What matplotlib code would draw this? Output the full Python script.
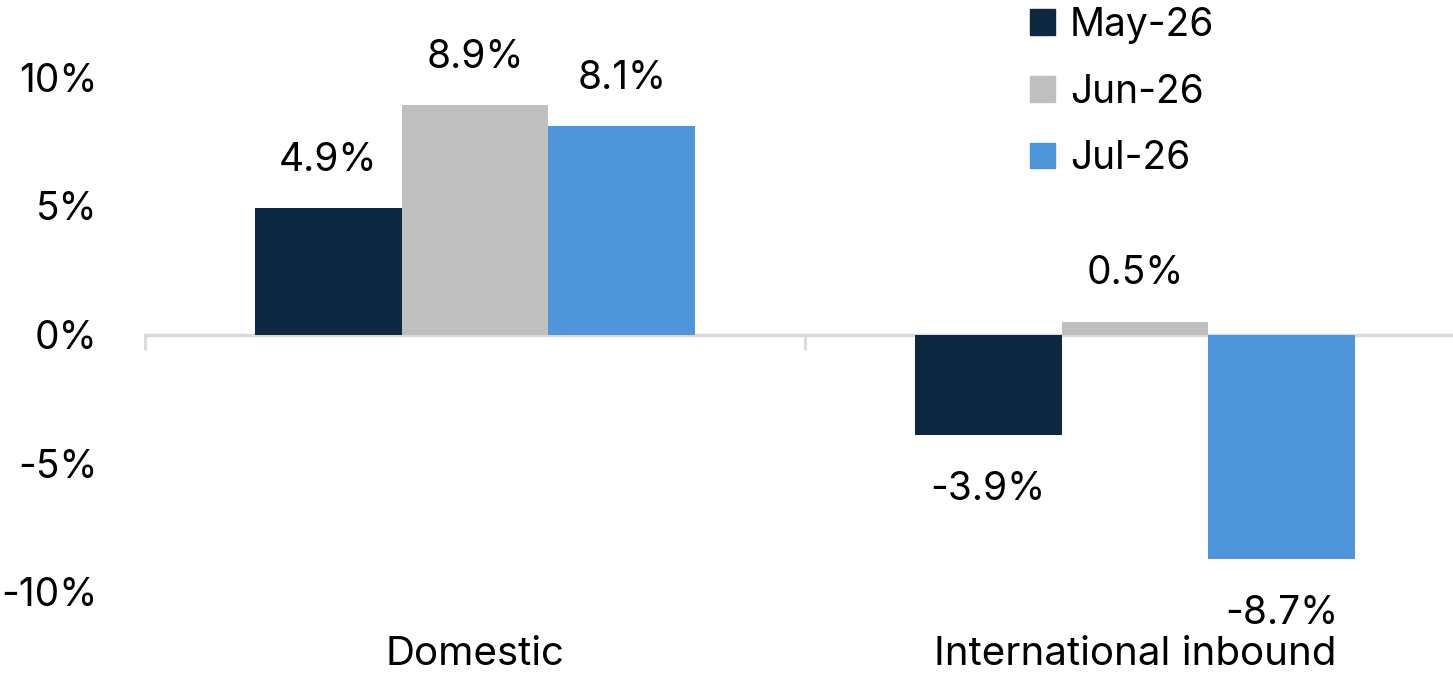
import matplotlib
matplotlib.use("Agg")
import matplotlib.pyplot as plt
from matplotlib.patches import Patch
from matplotlib.transforms import blended_transform_factory, offset_copy

plt.rcParams['font.family'] = ['Inter', 'DejaVu Sans']

categories = ['Domestic', 'International inbound']
series = ['May-26', 'Jun-26', 'Jul-26']
values = {
    'May-26': [4.9, -3.9],
    'Jun-26': [8.9, 0.5],
    'Jul-26': [8.1, -8.7],
}
colors = ['#0F2841', '#BFBFBF', '#4F95D9']
yticks = [-10, -5, 0, 5, 10]
ytick_labels = ['-10%', '-5%', '0%', '5%', '10%']

W, H = 1453, 676
fig = plt.figure(figsize=(W / 100, H / 100), dpi=100)
ax = fig.add_axes([145 / W, 1 - 592 / H, 1320 / W, 515 / H])

fs = 28
bar_w = 0.2227
x = range(len(categories))
for i, (name, col) in enumerate(zip(series, colors)):
    xs = [xi + (i - 1) * bar_w for xi in x]
    bars = ax.bar(xs, values[name], width=bar_w, color=col, zorder=3)
    # value labels above positive bars, below negative ones
    for b, v in zip(bars, values[name]):
        off = 34.5 if v >= 0 else -39.5
        ax.annotate(f'{v:.1f}%', (b.get_x() + b.get_width() / 2, v),
                    xytext=(0, off), textcoords='offset points',
                    ha='center', va='center', fontsize=fs, annotation_clip=False)

ax.set_xlim(-0.5, 1.5)
ax.set_ylim(-10, 10)
ax.set_yticks(yticks, ytick_labels)
ax.tick_params(axis='y', length=0, pad=34, labelsize=fs)

for s in ['top', 'right', 'left']:
    ax.spines[s].set_visible(False)
ax.spines['bottom'].set_position(('data', 0))
ax.spines['bottom'].set_color('#D9D9D9')
ax.spines['bottom'].set_linewidth(2.5)
ax.spines['bottom'].set_zorder(2)
ax.set_xticks([])
ax.set_xticks([-0.5, 0.5, 1.5], minor=True)
ax.tick_params(axis='x', which='minor', direction='out', length=11,
               width=2, color='#D9D9D9', labelbottom=False)

# category labels sit below the plot area, not at the zero line
trans = offset_copy(blended_transform_factory(ax.transData, ax.transAxes),
                    fig=fig, x=0, y=-45, units='points')
for xi, cat in zip(x, categories):
    ax.text(xi, 0, cat, transform=trans, ha='center', va='center', fontsize=fs + 1)

handles = [Patch(color=c, label=s) for s, c in zip(series, colors)]
fig.legend(handles=handles, loc='upper left', bbox_to_anchor=(1030 / W, 1 - 7 / H),
           frameon=False, fontsize=fs, borderpad=0, borderaxespad=0,
           handlelength=0.64, handleheight=0.64, handletextpad=0.38,
           labelspacing=0.76)

fig.savefig('out.png', dpi=100)
